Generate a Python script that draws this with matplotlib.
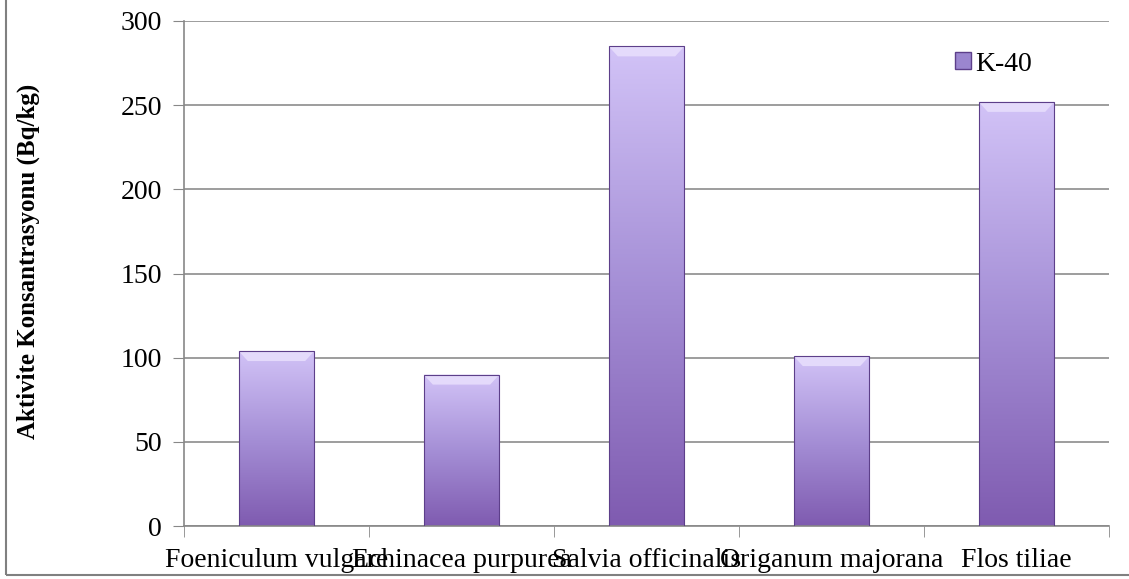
import numpy as np
import matplotlib.pyplot as plt
from matplotlib.colors import LinearSegmentedColormap
from matplotlib.patches import Rectangle, Polygon

##DATA

plants = ['Foeniculum vulgare', 'Echinacea purpurea', 'Salvia officinalis',
          'Origanum majorana', 'Flos tiliae']
k40 = [104, 90, 285, 101, 252]

##STYLE

plt.rcParams['font.family'] = ['Liberation Serif', 'DejaVu Serif']
grad = LinearSegmentedColormap.from_list('k40', ['#7f5bb0', '#a58fd6', '#d2c3f7'])

fig = plt.figure(figsize=(11.29, 5.79), dpi=100)
ax = fig.add_axes([184 / 1129, 53 / 579, 925 / 1129, 505 / 579])

x = np.arange(len(plants))
bars = ax.bar(x, k40, width=0.41, color='none', edgecolor='#5d3f8a', linewidth=0.8, zorder=3)

# vertical gradient fill clipped to each bar, with a light bevel on top
g = np.linspace(0, 1, 256).reshape(-1, 1)
for b in bars:
    x0, w, h = b.get_x(), b.get_width(), b.get_height()
    im = ax.imshow(g, cmap=grad, aspect='auto', origin='lower',
                   extent=[x0, x0 + w, 0, h], zorder=2)
    im.set_clip_path(b)
    d = 0.05
    ax.add_patch(Polygon([(x0, h), (x0 + w, h), (x0 + w - d, h - 6), (x0 + d, h - 6)],
                         closed=True, facecolor='#e4dafb', edgecolor='none', zorder=2.5))

ax.set_xlim(-0.5, len(plants) - 0.5)
ax.set_ylim(0, 300)
ax.set_yticks(range(0, 301, 50))
ax.tick_params(axis='y', labelsize=20, length=8, color='#888888', pad=8)

# category labels centred, tick marks on category boundaries
ax.set_xticks(x)
ax.set_xticklabels(plants, fontsize=20)
ax.tick_params(axis='x', length=0, pad=16)
ax.set_xticks(np.arange(-0.5, len(plants)), minor=True)
ax.tick_params(axis='x', which='minor', length=8, color='#888888')

ax.yaxis.grid(True, color='#8c8c8c', linewidth=1.2, zorder=0)
ax.set_axisbelow(True)
for s in ['top', 'right']:
    ax.spines[s].set_visible(False)
for s in ['left', 'bottom']:
    ax.spines[s].set_color('#888888')
    ax.spines[s].set_linewidth(1.2)

ax.set_ylabel('Aktivite Konsantrasyonu (Bq/kg)', fontsize=18, fontweight='bold')
ax.yaxis.set_label_coords(-0.156, 0.524)

# legend marker
leg = ax.legend([Rectangle((0, 0), 1, 1, facecolor='#9b86cf', edgecolor='#5d3f8a')], ['K-40'],
                loc='upper left', bbox_to_anchor=(0.807, 0.989), frameon=False,
                fontsize=20, handlelength=0.55, handleheight=0.55, handletextpad=0.15)

# outer frame
fig.add_artist(Rectangle((6 / 1129, 4 / 579), 1.1, 1.1,
                         transform=fig.transFigure, fill=False,
                         edgecolor='#808080', linewidth=1.5))

fig.savefig('out.png', dpi=100)
